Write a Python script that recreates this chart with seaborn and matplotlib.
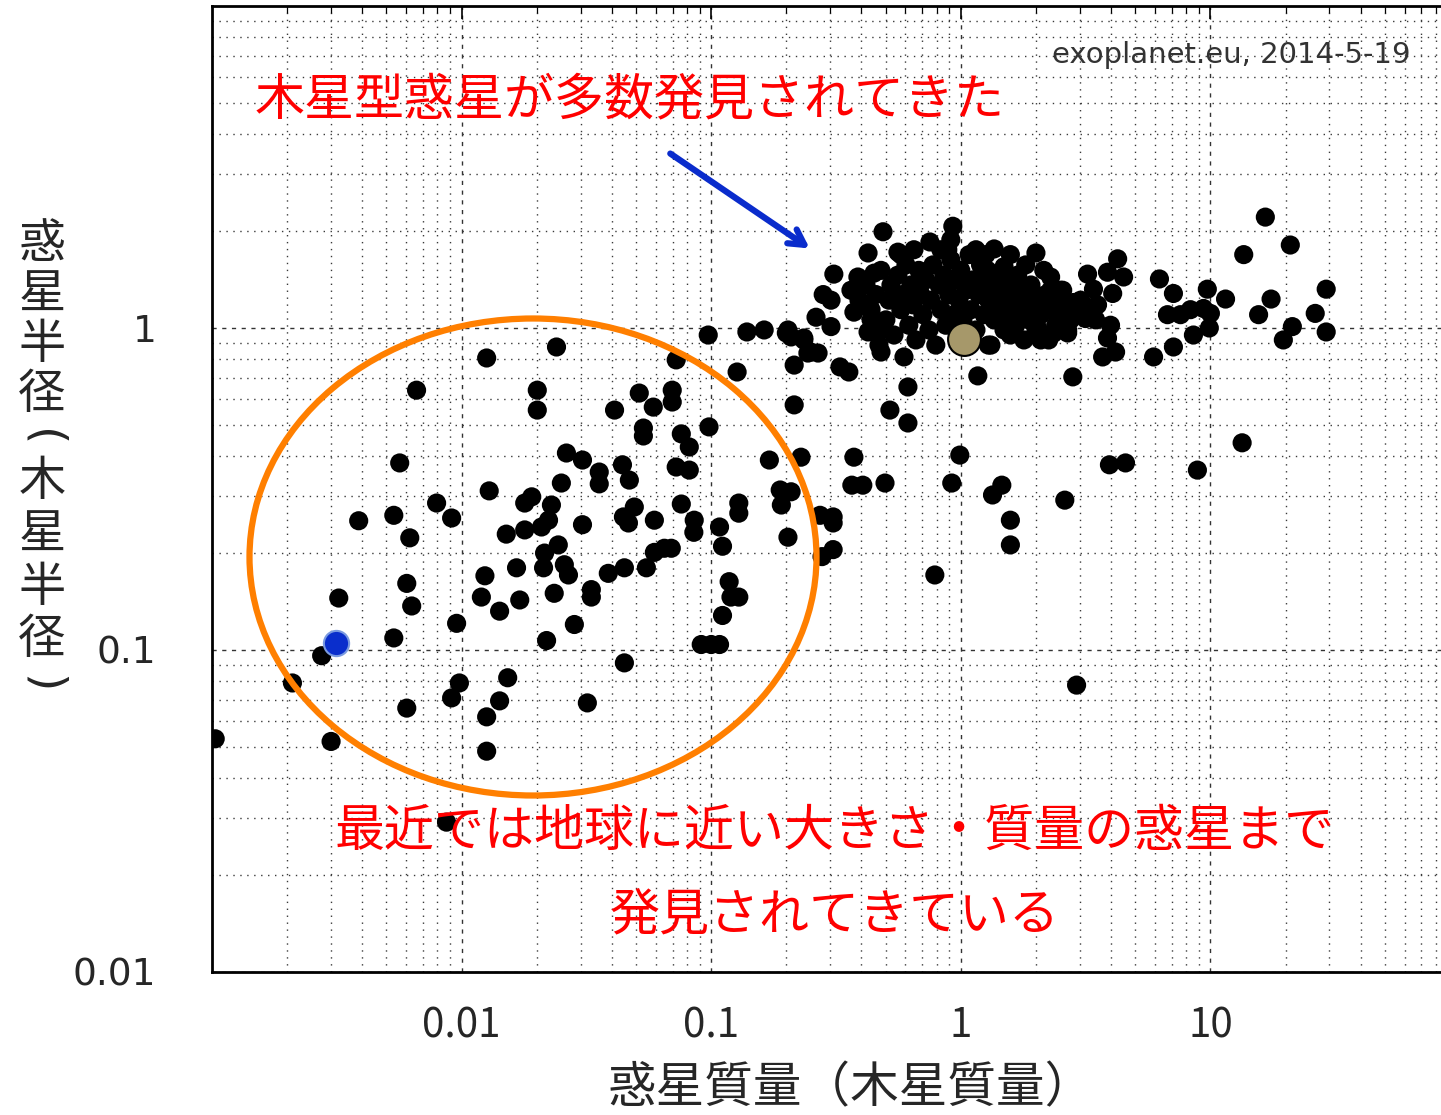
import numpy as np
import pandas as pd
import seaborn as sns
import matplotlib.pyplot as plt
from matplotlib.patches import Ellipse
from matplotlib.ticker import LogLocator, FixedLocator, NullFormatter

sns.set_theme(style="white")
plt.rcParams['font.family'] = ['Noto Sans CJK JP', 'DejaVu Sans']

# planet mass (Jupiter masses) and radius (Jupiter radii)
mass = [
    0.00103, 0.0021, 0.00275, 0.0030, 0.00322, 0.00387, 0.00535, 0.00565, 0.0066, 0.00535,
    0.00603, 0.00631, 0.0062, 0.00794, 0.00912, 0.00955, 0.0098, 0.00912, 0.00603, 0.0087,
    0.0126, 0.0129, 0.0124, 0.0120, 0.0142, 0.0153, 0.0142, 0.0126, 0.0126,
    0.024, 0.0973, 0.139, 0.163, 0.2, 0.235, 0.251, 0.0724, 0.127, 0.215,
    0.0201, 0.0201, 0.041, 0.0515, 0.0586, 0.0698, 0.0698, 0.215, 0.0535, 0.0535,
    0.098, 0.0759, 0.0817, 0.0263, 0.0305, 0.0356, 0.0356, 0.0441, 0.047, 0.0724,
    0.0817, 0.171, 0.229, 0.0251, 0.0179, 0.0191, 0.0229, 0.0759, 0.129, 0.129,
    0.189, 0.209, 0.191, 0.0445, 0.0466, 0.0492, 0.0592, 0.0151, 0.0179, 0.0209,
    0.0223, 0.0305, 0.0855, 0.0852, 0.108, 0.111, 0.203, 0.0244, 0.0215, 0.0166,
    0.0213, 0.0258, 0.0268, 0.0387, 0.0449, 0.055, 0.0592, 0.0649, 0.0692, 0.0331,
    0.0331, 0.0235, 0.0171, 0.118, 0.120, 0.129, 0.111, 0.0283, 0.0219, 0.0912,
    0.1, 0.108, 0.0449, 0.0319,
    0.273, 0.308, 0.308, 0.278, 0.308, 0.520, 0.614, 0.614, 0.373, 0.991,
    0.366, 0.405, 0.497, 0.92, 1.34, 1.46, 2.61, 3.94, 4.57, 8.87,
    13.4, 1.58, 1.58, 0.787, 2.91,
    0.488, 0.929, 0.752, 0.425, 0.560, 0.649, 1.15, 1.36, 2.0, 0.310,
    0.387, 0.449, 0.887, 0.912, 1.28, 1.49, 1.69, 2.15, 2.29, 0.281,
    0.302, 0.263, 0.373, 0.302, 0.203, 0.209, 0.235, 0.268, 0.244, 0.425,
    0.479, 0.592, 0.328, 0.356, 1.17, 1.29, 2.81, 2.03, 2.36, 2.68,
    2.83,
    16.6, 20.9, 13.6, 4.25, 3.22, 3.87, 4.49, 3.40, 4.06, 2.51,
    6.25, 7.11, 9.72, 11.5, 6.73, 7.59, 8.32, 9.38, 10.0, 2.83,
    3.22, 3.53, 3.02, 2.68, 2.51, 2.68, 3.98, 3.87, 4.17, 3.70,
    9.9, 8.55, 7.11, 5.92, 17.5, 15.6, 21.3, 19.6, 29.1, 26.3,
    29.1,
    0.363, 0.391, 0.417, 0.437, 0.457, 0.479, 0.501, 0.515, 0.525, 0.540,
    0.560, 0.575, 0.585, 0.603, 0.619, 0.631, 0.643, 0.661, 0.679, 0.692,
    0.705, 0.724, 0.745, 0.759, 0.773, 0.794, 0.817, 0.832, 0.855, 0.871,
    0.895, 0.912, 0.938, 0.955, 0.982, 1.0, 1.02, 1.05, 1.08, 1.10,
    1.12, 1.15, 1.18, 1.20, 1.24, 1.26, 1.29, 1.32, 1.36, 1.38,
    1.42, 1.45, 1.49, 1.51, 1.56, 1.58, 1.63, 1.66, 1.71, 1.74,
    1.79, 1.82, 1.87, 1.91, 1.96, 2.0, 2.05, 2.09, 2.19, 2.25,
    2.29, 2.40, 2.47, 2.56, 2.63, 2.75, 2.88, 3.02, 3.16, 3.31,
    3.47, 0.47, 1.32, 1.58, 2.09, 0.479, 0.437, 0.399, 0.575, 0.832,
    1.26, 1.58, 1.82, 2.29,
]
radius = [
    0.053, 0.079, 0.096, 0.052, 0.145, 0.252, 0.262, 0.381, 0.641, 0.109,
    0.161, 0.137, 0.223, 0.286, 0.257, 0.121, 0.079, 0.071, 0.066, 0.0292,
    0.807, 0.312, 0.170, 0.146, 0.132, 0.082, 0.0695, 0.062, 0.0485,
    0.873, 0.951, 0.972, 0.986, 0.965, 0.918, 0.842, 0.796, 0.730, 0.767,
    0.641, 0.556, 0.556, 0.628, 0.568, 0.641, 0.589, 0.577, 0.489, 0.462,
    0.493, 0.469, 0.427, 0.409, 0.389, 0.357, 0.328, 0.376, 0.337, 0.370,
    0.362, 0.389, 0.397, 0.330, 0.286, 0.299, 0.282, 0.284, 0.286, 0.266,
    0.314, 0.310, 0.282, 0.259, 0.248, 0.278, 0.253, 0.229, 0.236, 0.241,
    0.253, 0.245, 0.253, 0.232, 0.241, 0.210, 0.224, 0.212, 0.200, 0.180,
    0.180, 0.184, 0.171, 0.173, 0.180, 0.180, 0.201, 0.207, 0.207, 0.154,
    0.146, 0.150, 0.143, 0.163, 0.146, 0.146, 0.128, 0.120, 0.107, 0.104,
    0.104, 0.104, 0.0912, 0.0685,
    0.262, 0.259, 0.248, 0.195, 0.205, 0.556, 0.507, 0.656, 0.397, 0.403,
    0.325, 0.325, 0.330, 0.330, 0.303, 0.325, 0.292, 0.376, 0.381, 0.362,
    0.440, 0.253, 0.212, 0.171, 0.0778,
    1.99, 2.07, 1.85, 1.71, 1.72, 1.75, 1.75, 1.76, 1.71, 1.47,
    1.44, 1.48, 1.75, 1.88, 1.51, 1.55, 1.46, 1.51, 1.44, 1.27,
    1.22, 1.08, 1.12, 1.01, 0.986, 0.938, 0.931, 0.836, 0.836, 0.972,
    0.842, 0.813, 0.757, 0.730, 0.710, 0.885, 0.705, 1.0, 0.965, 0.986,
    1.20,
    2.21, 1.81, 1.69, 1.64, 1.47, 1.49, 1.44, 1.32, 1.28, 1.31,
    1.42, 1.28, 1.32, 1.23, 1.10, 1.10, 1.14, 1.15, 1.11, 1.16,
    1.16, 1.18, 1.10, 1.08, 1.0, 0.965, 1.02, 0.931, 0.842, 0.813,
    1.0, 0.951, 0.873, 0.813, 1.23, 1.10, 1.01, 0.918, 1.32, 1.11,
    0.972,
    1.31, 1.22, 1.36, 1.14, 1.27, 1.51, 1.06, 1.22, 1.36, 0.951,
    1.46, 1.14, 1.27, 1.57, 1.02, 1.36, 1.18, 0.918, 1.51, 1.27,
    1.10, 1.41, 0.986, 1.22, 1.57, 0.885, 1.36, 1.14, 1.46, 1.02,
    1.27, 1.63, 1.10, 1.41, 1.22, 1.51, 1.06, 1.31, 1.69, 1.14,
    1.41, 0.986, 1.27, 1.57, 1.10, 1.36, 1.22, 1.46, 1.06, 1.31,
    1.18, 1.41, 0.986, 1.27, 1.10, 1.36, 1.22, 1.02, 1.31, 1.14,
    0.918, 1.27, 1.06, 1.36, 1.18, 0.986, 1.22, 1.10, 1.27, 0.918,
    1.14, 1.02, 1.22, 1.31, 1.10, 1.06, 1.14, 1.22, 1.07, 1.14,
    1.06, 0.885, 0.885, 0.951, 0.918, 0.986, 1.06, 1.18, 1.69, 1.75,
    1.69, 1.69, 1.57, 1.31,
]
earth_mass, earth_radius = [0.00313], [0.105]
jupiter_mass, jupiter_radius = [1.03], [0.925]

df = pd.DataFrame({'mass': mass, 'radius': radius})

fig = plt.figure(figsize=(14.41, 11.15), dpi=100)
ax = fig.add_axes([212 / 1441, 1 - 972 / 1115, 1248 / 1441, 966 / 1115])
ax.set_xscale('log')
ax.set_yscale('log')
ax.set_xlim(0.001, 100)
ax.set_ylim(0.01, 10)

# dotted grid on every decade and sub-decade line
ax.xaxis.set_minor_locator(LogLocator(base=10, subs=np.arange(2, 10)))
ax.yaxis.set_minor_locator(LogLocator(base=10, subs=np.arange(2, 10)))
ax.grid(which='major', color='#333333', linestyle=(0, (3, 4)), linewidth=1.0)
ax.grid(which='minor', color='#3a3a3a', linestyle=(0, (1, 4)), linewidth=1.0)
ax.set_axisbelow(True)

sns.scatterplot(data=df, x='mass', y='radius', ax=ax, color='black',
                s=190, edgecolor='none', legend=False, zorder=3)
sns.scatterplot(x=jupiter_mass, y=jupiter_radius, ax=ax, color='#a6986a',
                s=560, edgecolor='black', linewidth=1.5, zorder=4)
sns.scatterplot(x=earth_mass, y=earth_radius, ax=ax, color='#0a2ecc',
                s=330, edgecolor='#7a9ae0', linewidth=1.5, zorder=4)

ax.xaxis.set_major_locator(FixedLocator([0.01, 0.1, 1, 10]))
ax.set_xticklabels(['0.01', '0.1', '1', '10'])
ax.yaxis.set_major_locator(FixedLocator([0.01, 0.1, 1]))
ax.set_yticklabels(['0.01', '0.1', '1'])
ax.xaxis.set_minor_formatter(NullFormatter())
ax.yaxis.set_minor_formatter(NullFormatter())
ax.tick_params(which='both', direction='in', top=True, right=True, color='black')
ax.tick_params(which='major', length=9, width=1.2)
ax.tick_params(which='minor', length=5, width=0.9)
ax.tick_params(axis='x', which='major', pad=24, labelsize=29)
ax.tick_params(axis='y', which='major', pad=40, labelsize=27)
for lbl in ax.get_yticklabels():
    lbl.set_family('DejaVu Sans')
for sp in ax.spines.values():
    sp.set_color('black')
    sp.set_linewidth(2)
ax.set_xlabel('')
ax.set_ylabel('')

fig.text(0.590, 0.024, '惑星質量（木星質量）', ha='center', va='center', fontsize=35)

# vertical y label, one character per line; brackets turned sideways
ylab_chars = ['惑', '星', '半', '径', '(', '木', '星', '半', '径', ')']
ylab_px = [245, 295, 345, 395, 438, 482, 535, 588, 640, 684]
for ch, py in zip(ylab_chars, ylab_px):
    if ch in '()':
        fig.text(42 / 1441, 1 - py / 1115, ch, ha='center', va='center', fontsize=34,
                 rotation=-90, family='DejaVu Sans')
    else:
        fig.text(42 / 1441, 1 - py / 1115, ch, ha='center', va='center', fontsize=34)

fig.text(1410 / 1441, 1 - 55 / 1115, 'exoplanet.eu, 2014-5-19', ha='right', va='center',
         fontsize=21, color='#333333', family='DejaVu Sans')
fig.text(255 / 1441, 1 - 100 / 1115, '木星型惑星が多数発見されてきた', ha='left', va='center',
         fontsize=36, color='#ff0000')
fig.text(835 / 1441, 1 - 832 / 1115, '最近では地球に近い大きさ・質量の惑星まで', ha='center',
         va='center', fontsize=36, color='#ff0000')
fig.text(835 / 1441, 1 - 915 / 1115, '発見されてきている', ha='center', va='center',
         fontsize=36, color='#ff0000')

ell = Ellipse((533 / 1441, 1 - 557 / 1115), 567 / 1441, 477 / 1115, transform=fig.transFigure,
              fill=False, edgecolor='#ff7f00', linewidth=4.5, zorder=5)
fig.patches.append(ell)

ax.annotate('', xy=(812 / 1441, 1 - 250 / 1115), xytext=(668 / 1441, 1 - 152 / 1115),
            xycoords='figure fraction', textcoords='figure fraction',
            arrowprops=dict(arrowstyle='->,head_length=0.9,head_width=0.5',
                            color='#0a2ccc', lw=4.5))

fig.savefig('out.png', dpi=100)
